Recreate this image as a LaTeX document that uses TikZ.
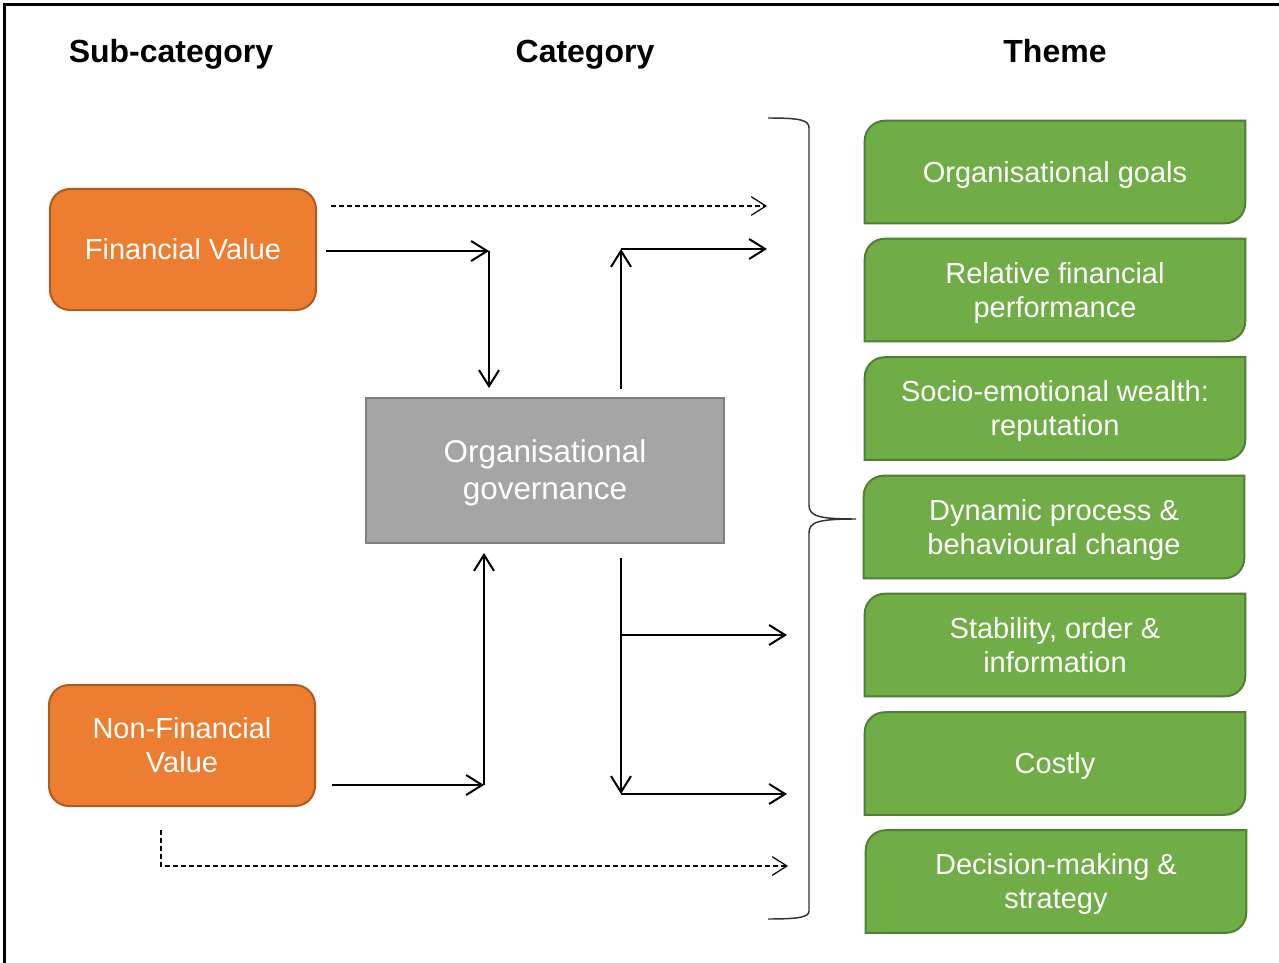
\documentclass[tikz,border=0pt]{standalone}
\usepackage{fontspec}
\setmainfont{Liberation Sans}
\usetikzlibrary{arrows.meta,backgrounds}

\definecolor{orangefill}{HTML}{ED7D31}
\definecolor{orangeline}{HTML}{AE5A21}
\definecolor{greyfill}{HTML}{A5A5A5}
\definecolor{greyline}{HTML}{7F7F7F}
\definecolor{greenfill}{HTML}{70AD47}
\definecolor{greenline}{HTML}{507E32}

\begin{document}
\begin{tikzpicture}[x=0.75pt,y=-0.75pt,
  heading/.style={font=\fontsize{24}{28}\selectfont\bfseries,text height=21.7pt,text depth=5.1pt},
  valuebox/.style={draw=orangeline,fill=orangefill,line width=1.5pt,rounded corners=15pt,
    minimum width=199.5pt,minimum height=90.75pt,align=center,text=white,
    font=\fontsize{21.75}{25.5}\selectfont,text height=19.7pt,text depth=4.6pt},
  govbox/.style={draw=greyline,fill=greyfill,line width=1.5pt,
    minimum width=268.5pt,minimum height=108.75pt,align=center,text=white,
    font=\fontsize{23.6}{27.75}\selectfont,text height=49.1pt,text depth=5pt},
  themebox/.style={minimum width=285pt,minimum height=76.5pt,align=center,text=white,
    font=\fontsize{21.75}{25.5}\selectfont,text height=19.7pt,text depth=4.6pt},
  twolines/.style={text height=45.2pt},
  themeshape/.style={draw=greenline,fill=greenfill,line width=1.5pt},
  link/.style={line width=1.5pt,-{Straight Barb[length=12pt,width=15pt]}},
  hint/.style={line width=0.9pt,dash pattern=on 3.75pt off 2.25pt,
    -{Straight Barb[length=11pt,width=14pt,line width=0.9pt]}},
  bracepen/.style={line width=1.1pt,black!80}]

\useasboundingbox (0,0) rectangle (1279,963);
\draw[line width=2.25pt] (4.5,963) -- (4.5,4.5) -- (1279,4.5);

% column headings
\node[heading] (hsub) at (171,51) {Sub-category};
\node[heading] (hcat) at (585,51) {Category};
\node[heading] (htheme) at (1055,51) {Theme};

% sub-categories and category
\node[valuebox] (fv) at (183,249.5) {Financial Value};
\node[valuebox,twolines] (nfv) at (182,745.5) {Non-Financial\\Value};
\node[govbox] (og) at (545,470.5) {Organisational\\governance};

% themes
\node[themebox] (g1) at (1055,172) {Organisational goals};
\node[themebox,twolines] (g2) at (1055,290) {Relative financial\\performance};
\node[themebox,twolines] (g3) at (1055,408.5) {Socio-emotional wealth:\\reputation};
\node[themebox,twolines] (g4) at (1054,527) {Dynamic process \&\\behavioural change};
\node[themebox,twolines] (g5) at (1055,645) {Stability, order \&\\information};
\node[themebox] (g6) at (1055,763.5) {Costly};
\node[themebox,twolines] (g7) at (1056,881.5) {Decision-making \&\\strategy};

\begin{scope}[on background layer]
\foreach \i in {1,...,7}
  \draw[themeshape] (g\i.south west) -- ([yshift=-15pt]g\i.north west)
    .. controls ([yshift=-6.7pt]g\i.north west) and ([xshift=6.7pt]g\i.north west)
    .. ([xshift=15pt]g\i.north west)
    -- (g\i.north east) -- ([yshift=15pt]g\i.south east)
    .. controls ([yshift=6.7pt]g\i.south east) and ([xshift=-6.7pt]g\i.south east)
    .. ([xshift=-15pt]g\i.south east) -- cycle;
\end{scope}

% arrow ends
\coordinate (fvdash) at (331,206);
\coordinate (topdash) at (767,206);
\coordinate (fvout) at (326,251);
\coordinate (fvbend) at (489,251);
\coordinate (ogin) at (489,388);
\coordinate (ogup) at (621,389);
\coordinate (upbend) at (621,249);
\coordinate (upend) at (767,249);
\coordinate (nfvout) at (332,785);
\coordinate (nfvbend) at (484,785);
\coordinate (ogbelow) at (484,553);
\coordinate (ogdown) at (621,558);
\coordinate (midbend) at (621,635);
\coordinate (midend) at (787,635);
\coordinate (lowbend) at (621,794);
\coordinate (lowend) at (787,794);
\coordinate (nfvdash) at (161,830);
\coordinate (dashbend) at (161,866);
\coordinate (lowdash) at (788,866);

\draw[hint] (fvdash) -- (topdash);
\draw[link] (fvout) -- (fvbend);
\draw[link] (fvbend) -- (ogin);
\draw[link] (ogup) -- (upbend);
\draw[link] (upbend) -- (upend);
\draw[link] (nfvout) -- (nfvbend);
\draw[link] (nfvbend) -- (ogbelow);
\draw[link] (ogdown) -- (lowbend);
\draw[link] (midbend) -- (midend);
\draw[link] (lowbend) -- (lowend);
\draw[hint] (nfvdash) -- (dashbend) -- (lowdash);

% brace
\coordinate (bracetop) at (768,118);
\coordinate (bracetip) at (856,519);
\coordinate (bracebot) at (768,919);
\draw[bracepen] (bracetop) .. controls (800,118) and (809,120) .. (809,128)
  -- (809,505) .. controls (809,516) and (818,519) .. (bracetip)
  .. controls (818,519) and (809,522) .. (809,533)
  -- (809,911) .. controls (809,917) and (800,919) .. (bracebot);
\end{tikzpicture}
\end{document}
